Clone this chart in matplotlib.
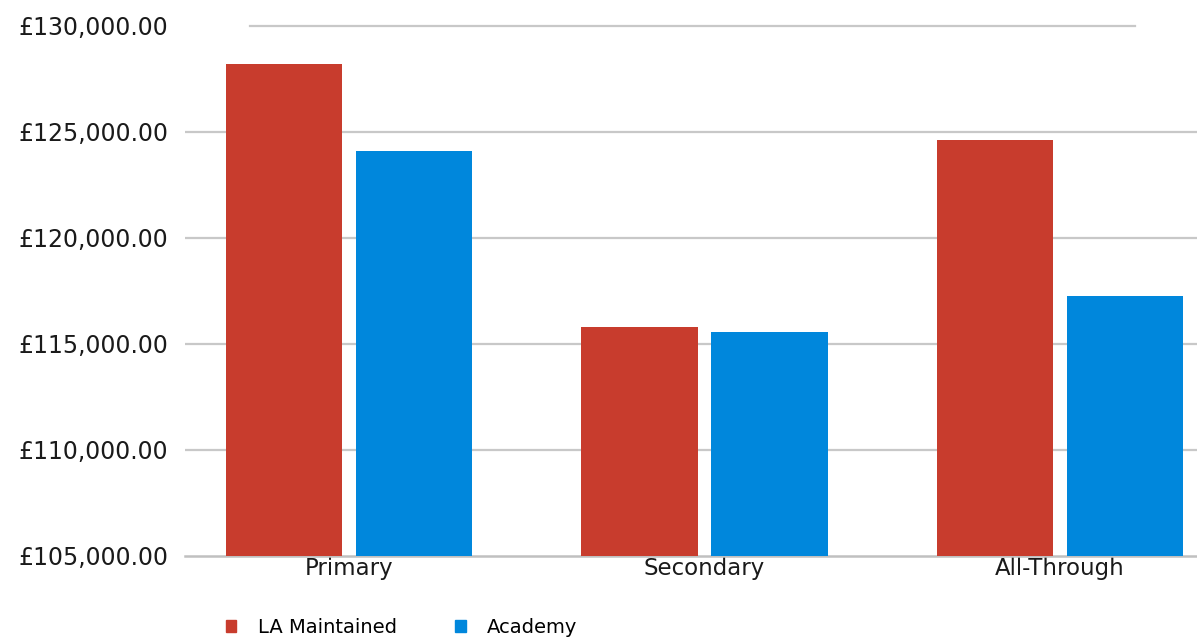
import numpy as np
import matplotlib
matplotlib.use("Agg")
import matplotlib.pyplot as plt
from matplotlib.patches import Patch
from matplotlib.ticker import FuncFormatter

categories = ["Primary", "Secondary", "All-Through"]
la_maintained = [128200, 115800, 124600]
academy = [124100, 115550, 117250]
series_names = ["LA Maintained", "Academy"]
yticks = [105000, 110000, 115000, 120000, 125000, 130000]

red = "#c83c2d"
blue = "#0087dc"
grid_c = "#c8c8c8"

plt.rcParams["font.family"] = ["DejaVu Sans"]

W, H = 1197, 643
fig = plt.figure(figsize=(W / 100, H / 100), dpi=100, facecolor="white")
ax = fig.add_axes([185 / W, 1 - 556 / H, (1197 - 185) / W, (556 - 26) / H])

x = np.arange(len(categories))
w = 0.327
off = 0.183
ax.bar(x - off, la_maintained, w, color=red, zorder=3)
ax.bar(x + off, academy, w, color=blue, zorder=3)

ax.set_ylim(105000, 130000)
ax.set_xlim(-0.462, 2.386)
ax.set_yticks(yticks)
ax.yaxis.set_major_formatter(FuncFormatter(lambda v, p: f"£{v:,.2f}"))
ax.set_xticks(x)
ax.set_xticklabels(categories)
ax.tick_params(axis="y", length=0, pad=12, labelsize=17, colors="#1a1a1a")
ax.tick_params(axis="x", length=0, pad=1, labelsize=16.5, colors="#1a1a1a")

for v in yticks[1:-1]:
    ax.axhline(v, color=grid_c, lw=1.6, zorder=1)
ax.axhline(yticks[-1], xmin=(250 - 185) / 1012, xmax=(1135 - 185) / 1012,
           color=grid_c, lw=1.6, zorder=1, clip_on=False)
for s in ["top", "right", "left"]:
    ax.spines[s].set_visible(False)
ax.spines["bottom"].set_color("#c0c0c0")
ax.spines["bottom"].set_linewidth(1.8)

handles = [Patch(color=red), Patch(color=blue)]
fig.legend(handles, series_names, loc="lower left", ncol=2, frameon=False,
           bbox_to_anchor=(212 / W, -0.012), fontsize=14, borderpad=0.2,
           handlelength=0.55, handleheight=0.55, handletextpad=1.1, columnspacing=3.0)

plt.savefig("out.png", dpi=100, facecolor="white")
